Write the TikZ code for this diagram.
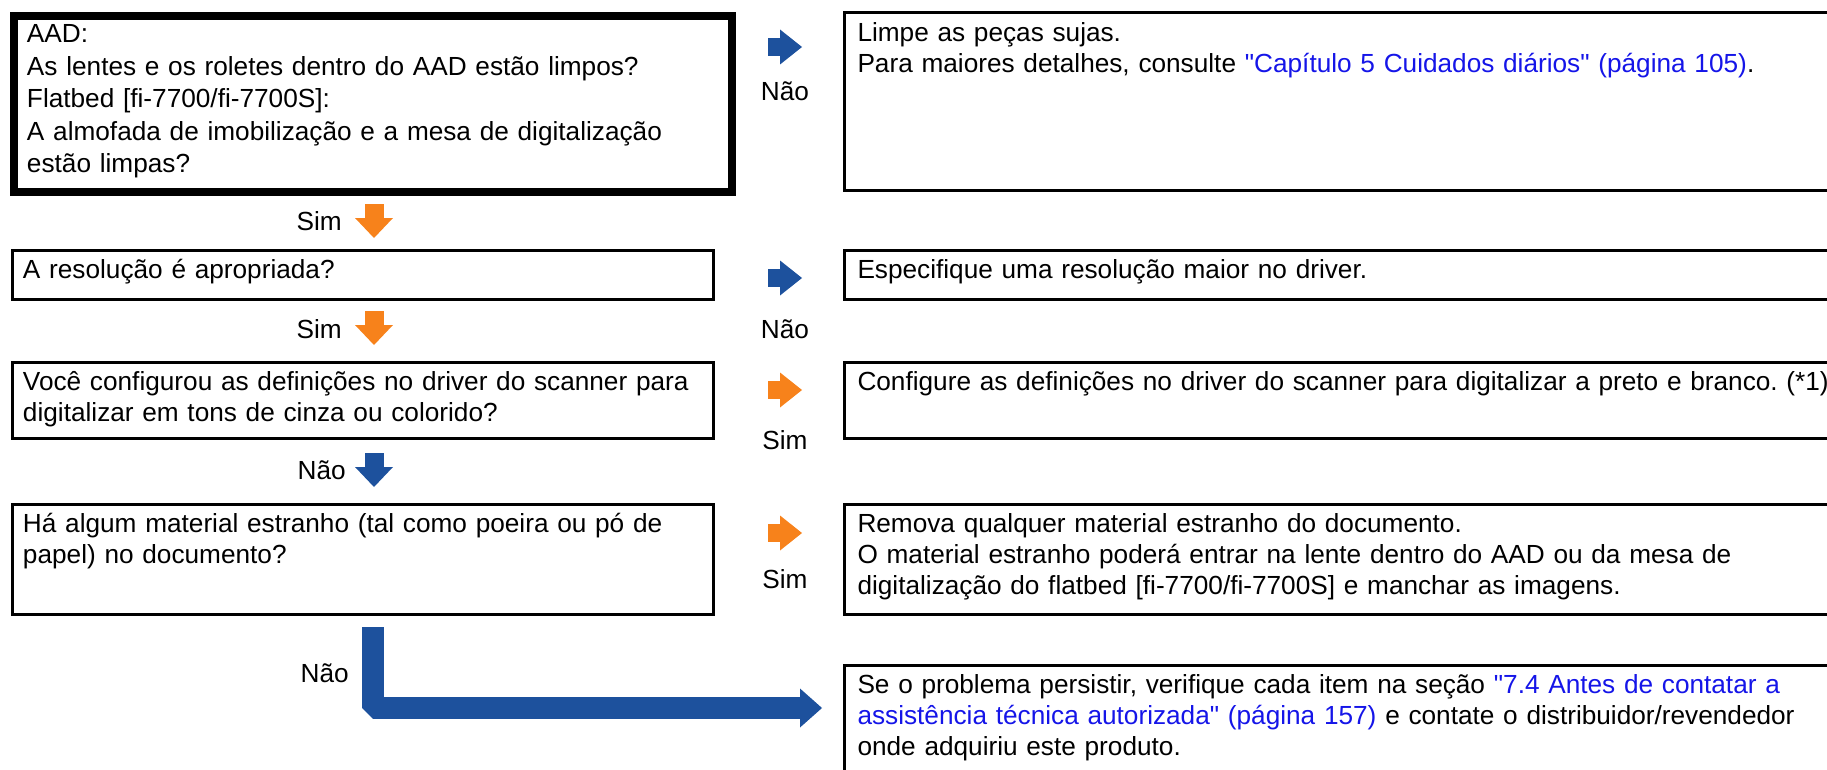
\documentclass[tikz,border=0pt]{standalone}
\usepackage{fontspec}
\setmainfont{Liberation Sans}[Ligatures=TeXOff]
\usetikzlibrary{arrows.meta, positioning, calc}
\definecolor{fjBlue}{HTML}{1D519D}
\definecolor{fjOrange}{HTML}{F7821B}
\definecolor{fjLink}{HTML}{1515E8}
\newcommand{\reflink}[1]{\textcolor{fjLink}{#1}}

\begin{document}
\begin{tikzpicture}[
    x=1pt, y=-1pt,
    font=\fontsize{26.2}{30.8}\selectfont\frenchspacing,
    box/.style={
        rectangle,
        draw=black,
        line width=3pt,
        anchor=north west,
        align=left,
        inner ysep=0pt,
        text height=28.5pt
    },
    thickbox/.style={
        box,
        line width=8pt,
        text height=27pt,
        font=\fontsize{26.2}{32.5}\selectfont\frenchspacing
    },
    leftbox/.style={
        box,
        inner xsep=11pt,
        text width=679pt
    },
    rightbox/.style={
        box,
        inner xsep=13.5pt,
        text width=1073pt
    },
    fatright/.style={
        line width=18pt,
        -{Triangle[length=22pt, width=35pt, line width=0pt]}
    },
    fatdown/.style={
        line width=19pt,
        -{Triangle[length=20pt, width=38pt, line width=0pt]}
    },
    fatbend/.style={
        line width=22pt,
        line join=bevel,
        -{Triangle[length=22pt, width=39pt, line width=0pt]}
    },
    tag/.style={inner sep=0pt}
]
\useasboundingbox (0,0) rectangle (1827,770);

% Checks, left column
\node[thickbox, inner xsep=13pt, text width=692pt, text depth=149pt] (lens) at (10,12)
    {AAD:\\
     As lentes e os roletes dentro do AAD estão limpos?\\
     Flatbed [fi-7700/fi-7700S]:\\
     A almofada de imobilização e a mesa de digitalização\\
     estão limpas?};
\node[leftbox, text depth=20.5pt] (resolution) at (10.5,248.5)
    {A resolução é apropriada?};
\node[leftbox, text depth=47.5pt] (colormode) at (10.5,360.5)
    {Você configurou as definições no driver do scanner para\\
     digitalizar em tons de cinza ou colorido?};
\node[leftbox, text depth=81.5pt] (dust) at (10.5,502.5)
    {Há algum material estranho (tal como poeira ou pó de\\
     papel) no documento?};

% Remedies, right column
\node[rightbox, text depth=149.5pt] (clean) at (842.5,11.5)
    {Limpe as peças sujas.\\
     Para maiores detalhes, consulte \reflink{"Capítulo 5 Cuidados diários" (página 105)}.};
\node[rightbox, text depth=20.5pt] (setres) at (842.5,248.5)
    {Especifique uma resolução maior no driver.};
\node[rightbox, text depth=47.5pt] (setbw) at (842.5,360.5)
    {Configure as definições no driver do scanner para digitalizar a preto e branco. (*1)};
\node[rightbox, text depth=81.5pt] (removedust) at (842.5,502.5)
    {Remova qualquer material estranho do documento.\\
     O material estranho poderá entrar na lente dentro do AAD ou da mesa de\\
     digitalização do flatbed [fi-7700/fi-7700S] e manchar as imagens.};
\node[rightbox, text depth=108pt] (support) at (842.5,663.5)
    {Se o problema persistir, verifique cada item na seção \reflink{"7.4 Antes de contatar a}\\
     \reflink{assistência técnica autorizada" (página 157)} e contate o distribuidor/revendedor\\
     onde adquiriu este produto.};

% Arrow ends
\coordinate (r1a) at (768,47);  \coordinate (r1b) at (802,47);
\coordinate (r2a) at (768,278); \coordinate (r2b) at (802,278);
\coordinate (r3a) at (768,390); \coordinate (r3b) at (802,390);
\coordinate (r4a) at (768,533); \coordinate (r4b) at (802,533);
\coordinate (d1a) at (374,204); \coordinate (d1b) at (374,238);
\coordinate (d2a) at (374,311); \coordinate (d2b) at (374,345);
\coordinate (d3a) at (374,453); \coordinate (d3b) at (374,487);
\coordinate (la) at (373,627);  \coordinate (lb) at (822,708);

% Sideways answers
\draw[fatright, draw=fjBlue] (r1a) -- (r1b);
\draw[fatright, draw=fjBlue] (r2a) -- (r2b);
\draw[fatright, draw=fjOrange] (r3a) -- (r3b);
\draw[fatright, draw=fjOrange] (r4a) -- (r4b);
\node[tag] (no1) at (785,91) {Não};
\node[tag] (no2) at (785,329) {Não};
\node[tag] (yes3) at (785,440) {Sim};
\node[tag] (yes4) at (785,579) {Sim};

% Downward answers
\draw[fatdown, draw=fjOrange] (d1a) -- (d1b);
\draw[fatdown, draw=fjOrange] (d2a) -- (d2b);
\draw[fatdown, draw=fjBlue] (d3a) -- (d3b);
\node[tag, anchor=east] (yes1) at (342,221) {Sim};
\node[tag, anchor=east] (yes2) at (342,329) {Sim};
\node[tag, anchor=east] (no3) at (346,470) {Não};

% Last branch to support
\draw[fatbend, draw=fjBlue] (la) |- (lb);
\node[tag, anchor=east] (no4) at (349,673) {Não};

\end{tikzpicture}
\end{document}
